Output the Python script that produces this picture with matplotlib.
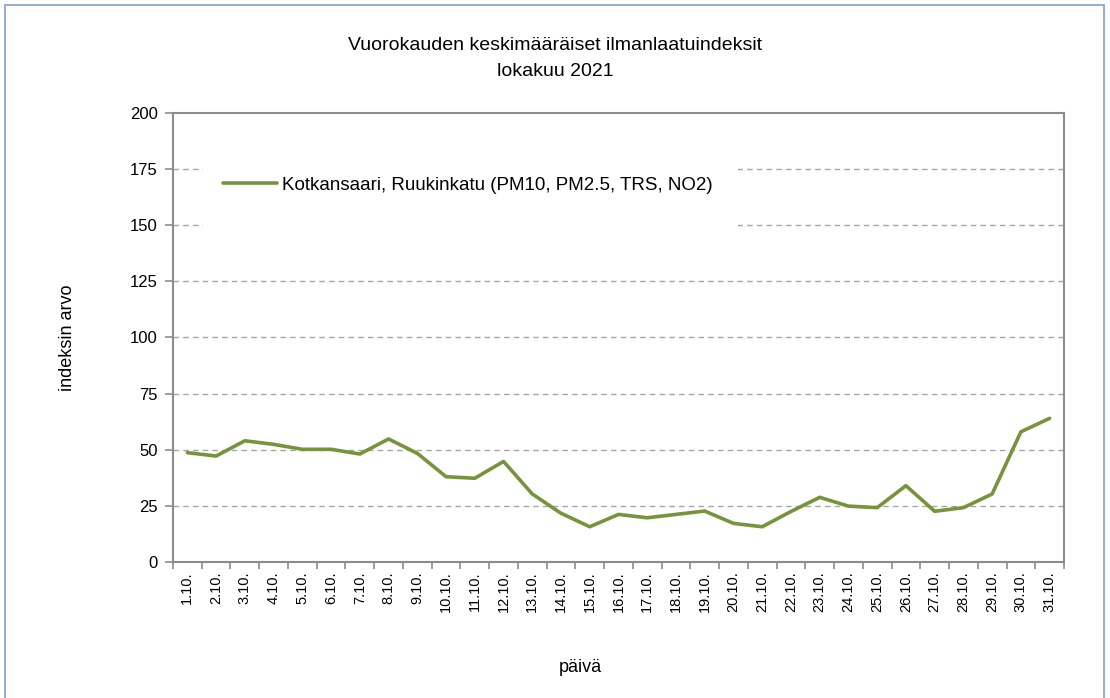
import matplotlib
matplotlib.use("Agg")
import matplotlib.pyplot as plt
from matplotlib.patches import Rectangle
import numpy as np

days = [f"{d}.10." for d in range(1, 32)]
values = [48.7, 47.2, 54.0, 52.4, 50.2, 50.2, 48.1, 54.8, 48.4, 38.0,
          37.3, 44.8, 30.3, 21.7, 15.7, 21.2, 19.7, 21.2, 22.7, 17.2,
          15.7, 22.5, 28.8, 24.9, 24.2, 34.0, 22.6, 24.2, 30.3, 58.0, 64.0]
series_name = "Kotkansaari, Ruukinkatu (PM10, PM2.5, TRS, NO2)"
yticks = [0, 25, 50, 75, 100, 125, 150, 175, 200]

plt.rcParams['font.family'] = ['Liberation Sans', 'DejaVu Sans']

W, H = 1110, 698
fig = plt.figure(figsize=(W / 100, H / 100), dpi=100)
fig.patch.set_facecolor("white")

# outer frame
fig.add_artist(Rectangle((5 / W, -0.01), 1099 / W, 1 - 5 / H + 0.01,
                         transform=fig.transFigure, fill=False,
                         edgecolor="#7f9fcb", linewidth=1.2))

left, right, top, bottom = 173, 1064, 113, 562
aw, ah = right - left, bottom - top
ax = fig.add_axes([left / W, 1 - bottom / H, aw / W, ah / H])

x = np.arange(len(days))
ax.set_xlim(-0.5, len(days) - 0.5)
ax.set_ylim(0, 200)

for y in yticks[1:-1]:
    ax.axhline(y, color="#a6a6a6", linestyle=(0, (4, 3)), linewidth=1.0, zorder=1)

# white legend area
ax.add_patch(Rectangle(((203 - left) / aw, (bottom - 234) / ah), (738 - 203) / aw, (234 - 148) / ah,
                       transform=ax.transAxes, facecolor="white", edgecolor="none", zorder=2))

ax.plot(x, values, color="#77933c", linewidth=2.6, solid_joinstyle="round",
        solid_capstyle="round", label=series_name, zorder=3)

for s in ax.spines.values():
    s.set_color("#8c8c8c")
    s.set_linewidth(1.5)

ax.set_yticks(yticks)
ax.set_yticklabels([str(v) for v in yticks], fontsize=12)
ax.set_xticks(x)
ax.set_xticklabels(days, rotation=90, fontsize=10.5)
ax.tick_params(axis="x", length=0, pad=7)
ax.tick_params(axis="y", length=6, color="#8c8c8c", width=1.2, pad=5)
ax.set_xticks(np.arange(-0.5, len(days), 1.0), minor=True)
ax.tick_params(axis="x", which="minor", length=5, color="#8c8c8c", width=1.2)

leg = ax.legend(loc="center left", bbox_to_anchor=((223 - left) / aw, (bottom - 185) / ah),
                frameon=False, fontsize=13.5, handlelength=2.9, handletextpad=0.25,
                borderpad=0, borderaxespad=0)
leg.set_zorder(4)

ax.set_ylabel("indeksin arvo", fontsize=13)
ax.yaxis.set_label_coords(-(left - 68) / aw, 0.5)
ax.set_xlabel("päivä", fontsize=13)
ax.xaxis.set_label_coords((580 - left) / aw, -(668 - bottom) / ah)
ax.xaxis.label.set_va("center")
ax.yaxis.label.set_va("center")

fig.text(555 / W, 1 - 45 / H, "Vuorokauden keskimääräiset ilmanlaatuindeksit",
         ha="center", va="center", fontsize=14)
fig.text(555 / W, 1 - 71 / H, "lokakuu 2021", ha="center", va="center", fontsize=14)

fig.savefig("out.png", dpi=100, facecolor="white")
